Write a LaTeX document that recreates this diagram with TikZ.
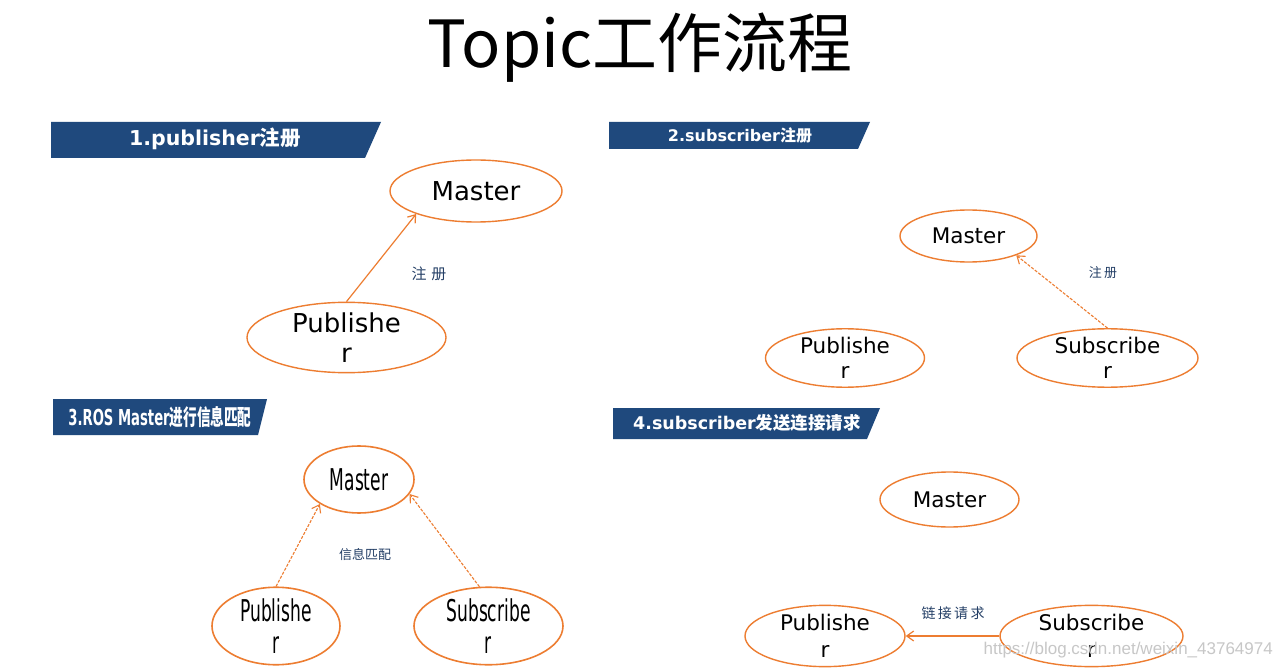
\documentclass[tikz,border=0pt]{standalone}
\usepackage{fontspec}
\setmainfont{DejaVu Sans}
\newfontfamily\cjk{Noto Sans CJK SC}
\newfontfamily\condfont[FakeStretch=0.57]{DejaVu Sans}
\newfontfamily\condcjk[FakeStretch=0.62]{Noto Sans CJK SC}
\newfontfamily\condbold[FakeStretch=0.6]{DejaVu Sans Bold}
\newfontfamily\wmfont{Liberation Sans}
\usetikzlibrary{shapes.geometric,arrows.meta}
\definecolor{orng}{HTML}{ED7D31}
\definecolor{bannerblue}{HTML}{1F497D}
\definecolor{labelblue}{HTML}{243F66}
\tikzset{
  oval/.style={ellipse, draw=orng, line width=1.4pt, inner sep=0pt, align=center, text=black},
  conn/.style={color=orng, draw=orng, line width=1.2pt, -{Straight Barb[length=7pt,width=10pt]}},
  dconn/.style={conn, line width=1.1pt, dash pattern=on 3pt off 1.5pt},
  banner/.style={fill=bannerblue, draw=none},
  bannertext/.style={text=white, inner sep=0pt},
  lbl/.style={text=labelblue, inner sep=0pt}
}
\begin{document}
\begin{tikzpicture}[x=1pt,y=-1pt]
\useasboundingbox[fill=white] (0,0) rectangle (1280,668);
% title
\node[anchor=base, inner sep=0pt] (title) at (640,68) {\fontsize{65}{70}\selectfont\cjk Topic工作流程};

% ---------- banners ----------
\path[banner] (51,122) -- (381,122) -- (365,158) -- (51,158) -- cycle;
\node[bannertext] (b1) at (215,139) {\fontsize{20.5}{22}\selectfont\bfseries 1.publisher{\cjk\bfseries 注册}};
\path[banner] (609,122) -- (870,122) -- (858,149) -- (609,149) -- cycle;
\node[bannertext] (b2) at (740,135) {\fontsize{16}{18}\selectfont\bfseries 2.subscriber{\cjk\bfseries 注册}};
\path[banner] (53,399) -- (267,399) -- (258,435) -- (53,435) -- cycle;
\node[bannertext] (b3) at (160,417) {\fontsize{22}{24}\selectfont\condbold 3.ROS Master{\condcjk\bfseries 进行信息匹配}};
\path[banner] (613,408) -- (880,408) -- (867,439) -- (613,439) -- cycle;
\node[bannertext] (b4) at (747,423) {\fontsize{17.5}{19}\selectfont\bfseries 4.subscriber{\cjk\bfseries 发送连接请求}};

% ---------- panel 1 ----------
\node[oval, minimum width=172pt, minimum height=62pt, font=\fontsize{26}{30}\selectfont] (mas1) at (476,191) {Master};
\node[oval, minimum width=199pt, minimum height=69pt, font=\fontsize{26}{30}\selectfont] (pub1) at (346.5,337.5) {Publishe\\r};
\draw[conn] (pub1.north) -- (mas1.201.5);
\node[lbl, font=\fontsize{15}{17}\selectfont\cjk] (l1) at (429,274) {注\,\,册};

% ---------- panel 2 ----------
\node[oval, minimum width=137pt, minimum height=52pt, font=\fontsize{21.5}{25}\selectfont] (mas2) at (968.5,236) {Master};
\node[oval, minimum width=159pt, minimum height=52pt, font=\fontsize{21.5}{25}\selectfont] (pub2) at (845,358) {Publishe\\r};
\node[oval, minimum width=181pt, minimum height=52pt, font=\fontsize{21.5}{25}\selectfont] (sub2) at (1107.5,358) {Subscribe\\r};
\draw[dconn] (sub2.north) -- (mas2.338.6);
\node[lbl, font=\fontsize{13}{15}\selectfont\cjk] (l2) at (1103,273) {注\,册};

% ---------- panel 3 ----------
\node[oval, line width=1.6pt, minimum width=110pt, minimum height=67pt, font=\fontsize{30}{32}\selectfont\condfont] (mas3) at (359,479.5) {Master};
\node[oval, line width=1.6pt, minimum width=128pt, minimum height=69pt, font=\fontsize{30}{32}\selectfont\condfont] (pub3) at (276,626) {Publishe\\r};
\node[oval, line width=1.6pt, minimum width=149pt, minimum height=69pt, font=\fontsize{30}{32}\selectfont\condfont] (sub3) at (488.5,626) {Subscribe\\r};
\draw[dconn] (pub3.north) -- (mas3.212.5);
\draw[dconn] (sub3.103) -- (mas3.344.6);
\node[lbl, font=\fontsize{13}{15}\selectfont\cjk] (l3) at (365,555) {信息匹配};

% ---------- panel 4 ----------
\node[oval, minimum width=139pt, minimum height=55pt, font=\fontsize{21.5}{25}\selectfont] (mas4) at (949.5,499.5) {Master};
\node[oval, minimum width=160pt, minimum height=58pt, font=\fontsize{21.5}{27}\selectfont] (pub4) at (825,636) {Publishe\\r};
\node[oval, minimum width=183pt, minimum height=58pt, font=\fontsize{21.5}{27}\selectfont] (sub4) at (1091.5,636) {Subscribe\\r};
\draw[conn] (sub4.west) -- (pub4.east);
\node[lbl, font=\fontsize{14}{16}\selectfont\cjk] (l4) at (953,613) {链\,接\,请\,求};

% watermark
\node[anchor=east, inner sep=0pt, text=black!22, font=\fontsize{17}{19}\selectfont\wmfont] (wm) at (1273,650) {https://blog.csdn.net/weixin\_43764974};
\end{tikzpicture}
\end{document}
